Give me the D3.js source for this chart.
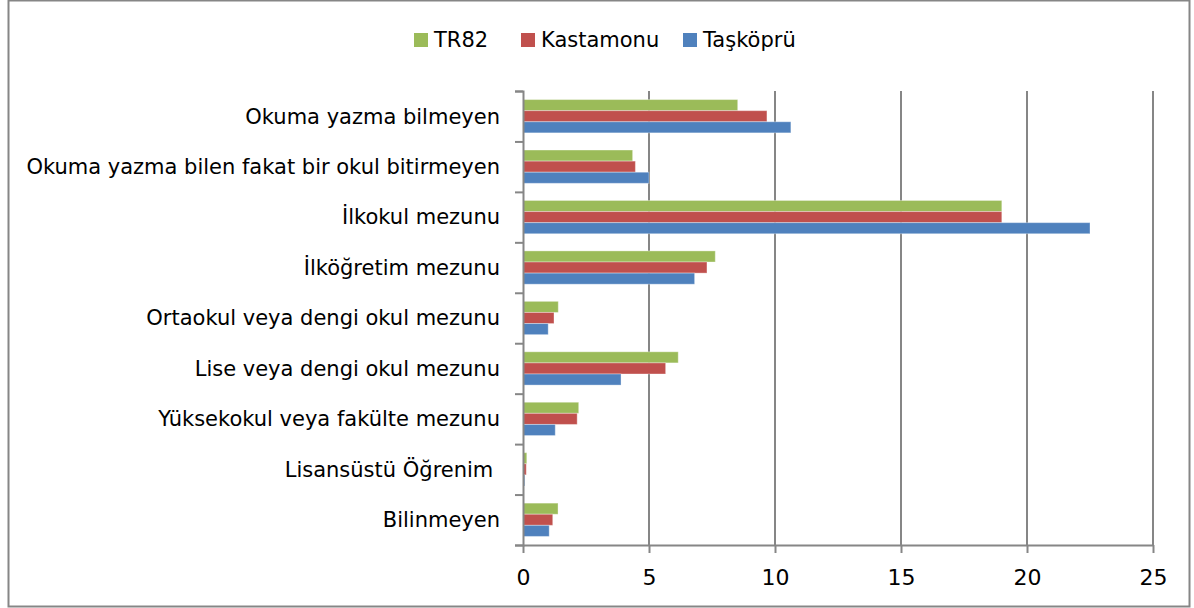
<!DOCTYPE html>
<html>
<head>
<meta charset="utf-8">
<script src="https://cdn.jsdelivr.net/npm/d3@7"></script>
<style>
  body { margin: 0; background: #fff; }
  text { font-family: "DejaVu Sans", sans-serif; fill: #000; }
</style>
</head>
<body>
<div id="chart"></div>
<script>
// categories, top to bottom
const categories = [
    "Okuma yazma bilmeyen",
    "Okuma yazma bilen fakat bir okul bitirmeyen",
    "İlkokul mezunu",
    "İlköğretim mezunu",
    "Ortaokul veya dengi okul mezunu",
    "Lise veya dengi okul mezunu",
    "Yüksekokul veya fakülte mezunu",
    "Lisansüstü Öğrenim ",
    "Bilinmeyen"
];
const seriesNames = ["TR82", "Kastamonu", "Taşköprü"];
const tr82 = [8.52, 4.35, 19.0, 7.63, 1.40, 6.16, 2.21, 0.15, 1.39];
const kastamonu = [9.68, 4.46, 19.0, 7.30, 1.23, 5.66, 2.15, 0.13, 1.18];
const taskopru = [10.63, 5.0, 22.5, 6.81, 1.0, 3.89, 1.28, 0.07, 1.04];
const xTicks = [0, 5, 10, 15, 20, 25];

const seriesValues = [tr82, kastamonu, taskopru];
const colors = ["#9BBB59", "#C0504D", "#4F81BD"];

const W = 1194, H = 608;
const margin = {top: 91, right: 41, bottom: 63, left: 523};
const width = W - margin.left - margin.right;
const height = H - margin.top - margin.bottom;

const svg = d3.select("#chart").append("svg")
    .attr("width", W)
    .attr("height", H);

// outer frame
svg.append("rect")
    .attr("x", 8.5).attr("y", 0.5)
    .attr("width", 1181).attr("height", 606)
    .attr("fill", "none")
    .attr("stroke", "#868686")
    .attr("stroke-width", 2);

const g = svg.append("g").attr("transform", `translate(${margin.left},${margin.top})`);

const x = d3.scaleLinear().domain([0, 25]).range([0, width]);
const y = d3.scaleBand().domain(categories).range([0, height]).paddingInner(0.34).paddingOuter(0.17);
const ySub = d3.scaleBand().domain(seriesNames).range([0, y.bandwidth()]);

// gridlines
g.selectAll(".grid")
    .data(xTicks.filter(d => d > 0))
    .join("line")
    .attr("x1", d => x(d)).attr("x2", d => x(d))
    .attr("y1", 0).attr("y2", height)
    .attr("stroke", "#868686")
    .attr("stroke-width", 2);

// bars
const rows = categories.map((c, i) => ({cat: c, vals: seriesValues.map((s, k) => ({name: seriesNames[k], v: s[i], k}))}));
const grp = g.selectAll(".cat")
    .data(rows)
    .join("g")
    .attr("transform", d => `translate(0,${y(d.cat)})`);

grp.selectAll("rect")
    .data(d => d.vals)
    .join("rect")
    .attr("x", x(0))
    .attr("y", d => ySub(d.name))
    .attr("width", d => x(d.v) - x(0))
    .attr("height", ySub.bandwidth())
    .attr("fill", d => colors[d.k])
    .attr("stroke", "rgba(255,255,255,0.35)")
    .attr("stroke-width", 1);

// y axis
const yAxis = g.append("g")
    .call(d3.axisLeft(d3.scaleLinear().domain([0, categories.length]).range([0, height]))
        .tickValues(d3.range(0, categories.length + 1))
        .tickSize(8).tickFormat(""));
yAxis.select(".domain").attr("stroke", "#868686").attr("stroke-width", 2);
yAxis.selectAll(".tick line").attr("stroke", "#868686").attr("stroke-width", 2);

// category labels
g.selectAll(".cat-label")
    .data(categories)
    .join("text")
    .attr("x", -23)
    .attr("y", d => y(d) + y.bandwidth() / 2)
    .attr("dy", "0.35em")
    .attr("text-anchor", "end")
    .style("font-size", "21px")
    .style("white-space", "pre")
    .text(d => d);

// x axis
const xAxis = g.append("g")
    .attr("transform", `translate(0,${height})`)
    .call(d3.axisBottom(x).tickValues(xTicks).tickSize(8).tickPadding(16).tickSizeOuter(0));
xAxis.select(".domain").attr("stroke", "#868686").attr("stroke-width", 2);
xAxis.selectAll(".tick line").attr("stroke", "#868686").attr("stroke-width", 2);
xAxis.selectAll(".tick text").style("font-size", "22px").attr("fill", "#000");

// legend
const legendX = [414, 521, 683];
const legend = svg.selectAll(".legend")
    .data(seriesNames)
    .join("g")
    .attr("transform", (d, i) => `translate(${legendX[i]},33)`);
legend.append("rect")
    .attr("width", 14).attr("height", 14)
    .attr("fill", (d, i) => colors[i]);
legend.append("text")
    .attr("x", 20).attr("y", 7)
    .attr("dy", "0.35em")
    .style("font-size", "21px")
    .text(d => d);
</script>
</body>
</html>
